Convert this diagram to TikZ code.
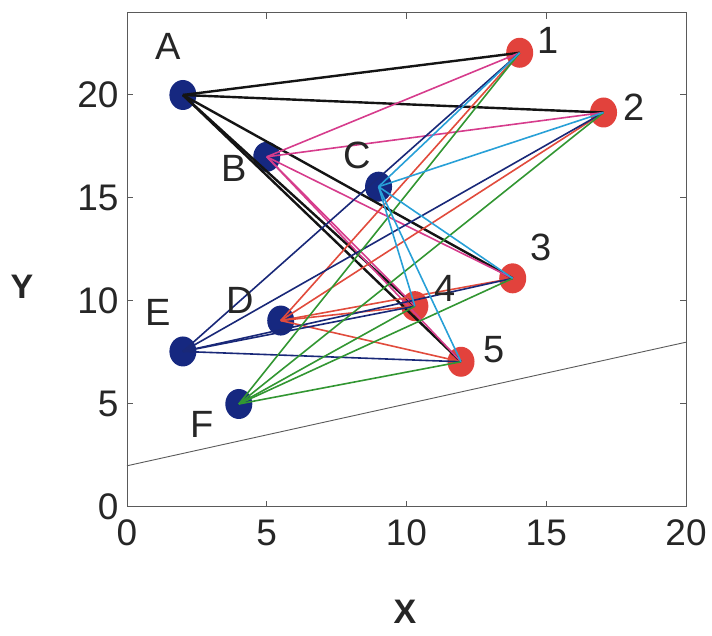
\documentclass[tikz,border=0pt]{standalone}
\usepackage{fontspec}
\setmainfont{Liberation Sans}
\usetikzlibrary{shapes.geometric}
\definecolor{navy}{RGB}{22,40,128}
\definecolor{dotred}{RGB}{226,66,60}
\definecolor{lnA}{RGB}{20,20,20}
\definecolor{lnB}{RGB}{214,60,140}
\definecolor{lnC}{RGB}{40,160,215}
\definecolor{lnD}{RGB}{225,75,60}
\definecolor{lnE}{RGB}{25,40,120}
\definecolor{lnF}{RGB}{50,150,50}
\definecolor{axisgray}{RGB}{90,90,90}
\begin{document}
\begin{tikzpicture}[x=1pt,y=1pt,
  srcdot/.style={ellipse,fill=navy,minimum width=27pt,minimum height=30pt,inner sep=0pt},
  dstdot/.style={ellipse,fill=dotred,minimum width=27pt,minimum height=30pt,inner sep=0pt},
  lbl/.style={font=\fontsize{38}{40}\selectfont,inner sep=0pt,text=black!85},
  ticklbl/.style={font=\fontsize{37}{40}\selectfont,inner sep=0pt,text=black!85},
  axlbl/.style={font=\fontsize{34}{36}\selectfont\bfseries,inner sep=0pt,text=black!85},
  edge/.style={line width=1.6pt},
  thickedge/.style={line width=2.4pt}]
\useasboundingbox (0,0) rectangle (712,636);
\begin{scope}[shift={(127pt,129pt)},x=27.95pt,y=20.6pt]
  % axes box
  \draw[axisgray,line width=1pt] (0,0) rectangle (20,24);
  \foreach \t in {5,10,15}{
    \draw[axisgray,line width=1pt] (\t,0) -- ++(0,6pt);
    \draw[axisgray,line width=1pt] (\t,24) -- ++(0,-6pt);
  }
  \foreach \t in {5,10,15,20}{
    \draw[axisgray,line width=1pt] (0,\t) -- ++(6pt,0);
    \draw[axisgray,line width=1pt] (20,\t) -- ++(-6pt,0);
  }
  % tick labels
  \foreach \t in {0,5,10,15,20}{
    \node[ticklbl] (xt\t) at (\t,-1.25) {\t};
    \node[ticklbl,anchor=east] (yt\t) at (-0.3,\t) {\t};
  }
  % reference line
  \coordinate (l0) at (0,2);
  \coordinate (l1) at (20,8);
  \draw[axisgray,line width=0.9pt] (l0) -- (l1);
  % markers
  \node[srcdot] (A) at (2,20) {};
  \node[srcdot] (B) at (5,17) {};
  \node[srcdot] (C) at (9,15.55) {};
  \node[srcdot] (D) at (5.5,9.05) {};
  \node[srcdot] (E) at (2,7.55) {};
  \node[srcdot] (F) at (4,5) {};
  \node[dstdot] (n1) at (14.05,22.05) {};
  \node[dstdot] (n2) at (17.05,19.15) {};
  \node[dstdot] (n3) at (13.8,11.1) {};
  \node[dstdot] (n4) at (10.3,9.75) {};
  \node[dstdot] (n5) at (11.95,7.05) {};
  % connectors
  \foreach \d in {n1,n2,n3,n4,n5}{
    \draw[thickedge,lnA] (A.center) -- (\d.center);
  }
  \foreach \d in {n1,n2,n3,n4,n5}{
    \draw[edge,lnB] (B.center) -- (\d.center);
  }
  \foreach \d in {n1,n2,n3,n4,n5}{
    \draw[edge,lnD] (D.center) -- (\d.center);
  }
  \foreach \d in {n1,n2,n3,n4,n5}{
    \draw[edge,lnE] (E.center) -- (\d.center);
  }
  \foreach \d in {n1,n2,n3,n4,n5}{
    \draw[edge,lnF] (F.center) -- (\d.center);
  }
  \foreach \d in {n1,n2,n3,n4,n5}{
    \draw[edge,lnC] (C.center) -- (\d.center);
  }
\end{scope}
% point labels (pixel positions)
\node[lbl] (lA) at (168,590) {A};
\node[lbl] (lB) at (234,468) {B};
\node[lbl] (lC) at (357,481) {C};
\node[lbl] (lD) at (240,336) {D};
\node[lbl] (lE) at (158,324) {E};
\node[lbl] (lF) at (202,212) {F};
\node[lbl] (l1) at (548,596) {1};
\node[lbl] (l2) at (634,529) {2};
\node[lbl] (l3) at (541,389) {3};
\node[lbl] (l4) at (445,348) {4};
\node[lbl] (l5) at (494,286) {5};
% axis titles
\node[axlbl] (xlab) at (405,24) {X};
\node[axlbl] (ylab) at (22,349) {Y};
\end{tikzpicture}
\end{document}
